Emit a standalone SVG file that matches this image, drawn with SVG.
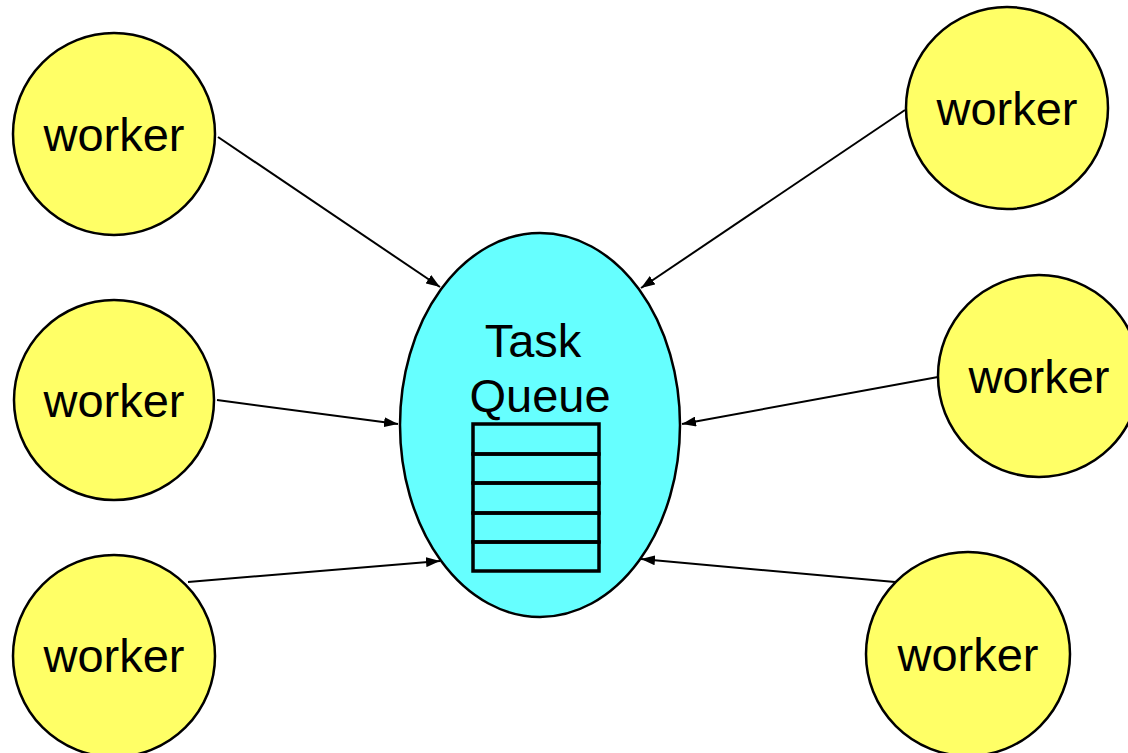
<svg xmlns="http://www.w3.org/2000/svg" width="1128" height="753" viewBox="0 0 1128 753">
  <style>
    .worker circle { fill: #FFFF66; stroke: #000; stroke-width: 2.5; }
    .label { font-family: "Liberation Sans", Arial, sans-serif; font-size: 47px; fill: #000; text-anchor: middle; }
    .edge { stroke: #000; stroke-width: 2; fill: none; marker-end: url(#arrow); }
    .slot { fill: none; stroke: #000; stroke-width: 3.5; }
  </style>
  <defs>
    <marker id="arrow" markerWidth="14" markerHeight="10" refX="14" refY="5" orient="auto" markerUnits="userSpaceOnUse" viewBox="0 0 14 10">
      <path d="M0,0 L14,5 L0,10 Z" fill="#000"/>
    </marker>
  </defs>
  <rect width="1128" height="753" fill="#fff"/>

  <!-- connectors: every worker points at the shared queue -->
  <g id="connectors">
    <line class="edge" x1="218" y1="137" x2="440" y2="287"/>
    <line class="edge" x1="217" y1="400" x2="398" y2="424"/>
    <line class="edge" x1="188" y1="582" x2="440" y2="561"/>
    <line class="edge" x1="905" y1="110" x2="641" y2="288"/>
    <line class="edge" x1="938" y1="377" x2="682" y2="424"/>
    <line class="edge" x1="895" y1="582" x2="641" y2="559"/>
  </g>

  <!-- central task queue -->
  <g id="task-queue">
    <ellipse cx="540" cy="425" rx="140" ry="192" fill="#66FFFF" stroke="#000" stroke-width="2.5"/>
    <text class="label" x="533" y="357">Task</text>
    <text class="label" x="540" y="412">Queue</text>
    <rect class="slot" x="473" y="424" width="126" height="30"/>
    <rect class="slot" x="473" y="454" width="126" height="29"/>
    <rect class="slot" x="473" y="483" width="126" height="30"/>
    <rect class="slot" x="473" y="513" width="126" height="29"/>
    <rect class="slot" x="473" y="542" width="126" height="29"/>
  </g>

  <!-- workers -->
  <g id="worker-left-top" class="worker">
    <circle cx="114" cy="134" r="101"/>
    <text class="label" x="114" y="151">worker</text>
  </g>
  <g id="worker-left-middle" class="worker">
    <circle cx="114" cy="400" r="100"/>
    <text class="label" x="114" y="417">worker</text>
  </g>
  <g id="worker-left-bottom" class="worker">
    <circle cx="114" cy="656" r="101"/>
    <text class="label" x="114" y="672">worker</text>
  </g>
  <g id="worker-right-top" class="worker">
    <circle cx="1007" cy="108" r="101"/>
    <text class="label" x="1007" y="125">worker</text>
  </g>
  <g id="worker-right-middle" class="worker">
    <circle cx="1039" cy="376" r="101"/>
    <text class="label" x="1039" y="393">worker</text>
  </g>
  <g id="worker-right-bottom" class="worker">
    <circle cx="968" cy="654" r="102"/>
    <text class="label" x="968" y="671">worker</text>
  </g>
</svg>
